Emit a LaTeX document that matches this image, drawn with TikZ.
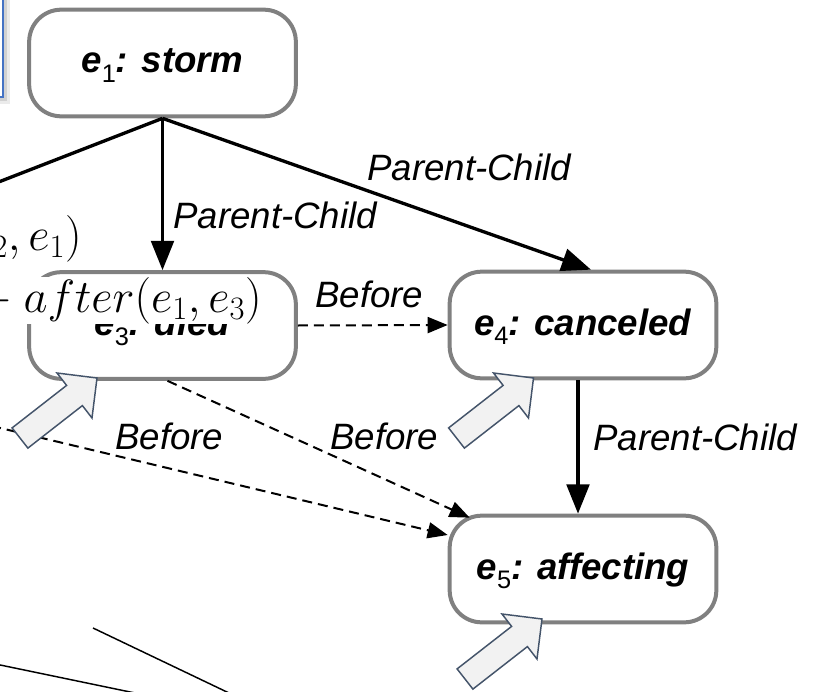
\RequirePackage{fix-cm}
\documentclass[tikz,border=0pt]{standalone}
\usepackage[no-math]{fontspec}
\setmainfont{Liberation Sans}
\usetikzlibrary{arrows.meta}
\definecolor{nodegray}{RGB}{128,128,128}
\definecolor{blockedge}{RGB}{68,84,106}
\definecolor{blockfill}{RGB}{242,242,242}
\definecolor{frameblue}{RGB}{68,114,196}
\newcommand\evlabel[2]{\textbf{\textit{e}}\raisebox{-0.27em}{\normalfont\fontsize{19}{19}\selectfont #1}\textbf{\textit{: #2}}}
\begin{document}
\begin{tikzpicture}[x=0.75pt, y=-0.75pt,
  event/.style={draw=nodegray, line width=3pt, rounded corners=24pt,
    minimum width=200pt, minimum height=80pt, fill=white, inner sep=0pt,
    font=\fontsize{27.5}{33}\selectfont, text height=20pt, text depth=5pt},
  lbl/.style={font=\fontsize{27.5}{33}\selectfont\itshape, inner sep=0pt, anchor=base west},
  relm/.style={font=\fontsize{35}{42}\selectfont, inner sep=0pt, anchor=base east},
  pc/.style={line width=2.5pt, -{Triangle[length=22pt,width=17pt]}},
  bf/.style={line width=1.5pt, dash pattern=on 7.5pt off 4.5pt, -{Triangle[length=15pt,width=12pt]}},
  thinline/.style={line width=1.1pt},
  blockarrow/.pic={\draw[blockedge, fill=blockfill, line width=1.1pt, line join=miter]
    (0,0) -- (-5,40) -- (-14.6,27.6) -- (-69.1,70.1) -- (-84.9,49.9) -- (-30.4,7.4) -- (-40,-5) -- cycle;}
]
\useasboundingbox (0,0) rectangle (821,692);
\clip (0,0) rectangle (821,692);
\fill[white] (0,0) rectangle (821,692);

% blue frame at top left
\fill[black!8] (-30,-30) rectangle (10,104);
\fill[black!18] (-30,-30) rectangle (7,101);
\draw[frameblue, line width=1.6pt, fill=white] (-30,-30) rectangle (3,97);

% stray lines at bottom left
\coordinate (la1) at (-20,660.8);
\coordinate (la2) at (200,706.5);
\coordinate (lb1) at (93,628);
\coordinate (lb2) at (260,707.8);
\draw[thinline] (la1) -- (la2);
\draw[thinline] (lb1) -- (lb2);

% event nodes
\node[event] (e1) at (162.5,63) {\evlabel{1}{storm}};
\node[event] (e3) at (162.5,325.5) {\evlabel{3}{died}};
\node[event] (e4) at (583,325) {\evlabel{4}{canceled}};
\node[event] (e5) at (583,569) {\evlabel{5}{affecting}};

% connectors
\coordinate (offleft) at (-40,197);
\coordinate (offleftb) at (-40,418.4);
\draw[line width=2.5pt] (e1.south) -- (offleft);
\draw[pc] (e1.south) -- (e3.north);
\draw[pc] (e1.south) -- ([xshift=6pt]e4.north);
\draw[pc] ([xshift=-3.75pt]e4.south) -- ([xshift=-3.75pt]e5.north);
\draw[bf] (e3.east) -- (e4.west);
\draw[bf] ([xshift=3.75pt]e3.south) -- ([xshift=16.5pt,yshift=-3pt]e5.north west);
\draw[bf] (offleftb) -- ([yshift=25.5pt]e5.west);

% overlaid formulas
\node[relm] (rel1) at (82,250) {$(e_2, e_1)$};
\node[relm, fill=white] (rel2) at (262,312) {${}-after(e_1, e_3)$};

% edge labels
\node[lbl] (l1) at (173,228) {Parent-Child};
\node[lbl] (l2) at (367,180) {Parent-Child};
\node[lbl] (l3) at (593,450) {Parent-Child};
\node[lbl] (l4) at (315,307) {Before};
\node[lbl] (l5) at (115,449) {Before};
\node[lbl] (l6) at (330,449) {Before};

% block arrows
\pic at (97,378) {blockarrow};
\pic at (533.5,378) {blockarrow};
\pic at (542,619) {blockarrow};
\end{tikzpicture}
\end{document}
